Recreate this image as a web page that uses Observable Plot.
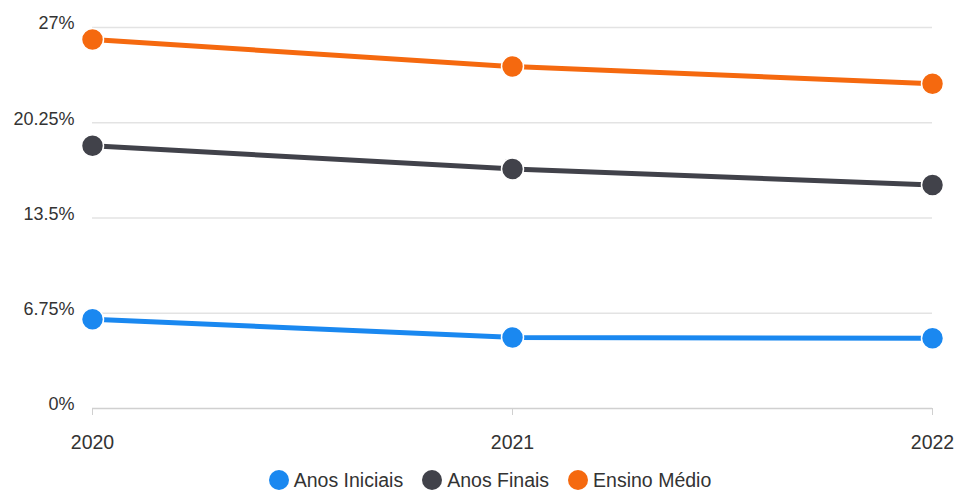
<!DOCTYPE html>
<html>
<head>
<meta charset="utf-8">
<script src="https://cdn.jsdelivr.net/npm/d3@7"></script>
<script src="https://cdn.jsdelivr.net/npm/@observablehq/plot@0.6"></script>
<style>
  html, body { margin: 0; padding: 0; background: #fff; }
  body { width: 955px; height: 492px; overflow: hidden; font-family: "Liberation Sans", Arial, sans-serif; }
  #legend { display: flex; justify-content: center; align-items: center; gap: 19px; height: 30px; margin-top: 3px; margin-left: 25px; font-size: 19.5px; color: #333; }
  #legend span.item { display: flex; align-items: center; }
  #legend span.sw { display: inline-block; width: 20px; height: 20px; border-radius: 50%; margin-right: 5px; }
</style>
</head>
<body>
<div id="chart"></div>
<div id="legend"></div>
<script>
const years = [2020, 2021, 2022];
const seriesNames = ["Anos Iniciais", "Anos Finais", "Ensino Médio"];
const anosIniciais = [6.32, 5.04, 4.97];
const anosFinais = [18.62, 16.98, 15.84];
const ensinoMedio = [26.15, 24.23, 23.02];
const colors = ["#1a88f0", "#41424a", "#f5690f"];
const yTicks = [0, 6.75, 13.5, 20.25, 27];
const yTickLabels = ["0%", "6.75%", "13.5%", "20.25%", "27%"];

const seriesValues = [anosIniciais, anosFinais, ensinoMedio];
const data = [];
seriesNames.forEach((s, i) => years.forEach((y, j) => data.push({series: s, year: y, value: seriesValues[i][j]})));

const chart = Plot.plot({
  width: 955,
  height: 462,
  marginLeft: 92,
  marginRight: 23,
  marginTop: 27,
  marginBottom: 54,
  style: {fontFamily: "'Liberation Sans', Arial, sans-serif", fontSize: "15px", color: "#333", background: "#fff"},
  x: {domain: [2020, 2022]},
  y: {domain: [0, 27]},
  color: {domain: seriesNames, range: colors},
  marks: [
    Plot.ruleY(yTicks.filter(d => d > 0), {stroke: "#e3e3e3", strokeWidth: 1.5, strokeOpacity: 1}),
    Plot.ruleY([0], {stroke: "#d0d0d0", strokeWidth: 1.5}),
    Plot.axisY({ticks: yTicks, tickSize: 0, tickPadding: 18, dy: -4, tickFormat: d => yTickLabels[yTicks.indexOf(d)], fill: "#333", fontSize: 18, label: null}),
    Plot.axisX({ticks: years, tickSize: 7, tickPadding: 20, tickFormat: d => String(d), stroke: "#d0d0d0", fill: "#333", fontSize: 19.5, label: null}),
    Plot.line(data, {x: "year", y: "value", z: "series", stroke: "series", strokeWidth: 5}),
    Plot.dot(data, {x: "year", y: "value", fill: "series", r: 11, stroke: "#fff", strokeWidth: 1.5})
  ]
});
document.getElementById("chart").appendChild(chart);

const legend = document.getElementById("legend");
seriesNames.forEach((s, i) => {
  const item = document.createElement("span");
  item.className = "item";
  const sw = document.createElement("span");
  sw.className = "sw";
  sw.style.background = colors[i];
  item.appendChild(sw);
  item.appendChild(document.createTextNode(s));
  legend.appendChild(item);
});
</script>
</body>
</html>
